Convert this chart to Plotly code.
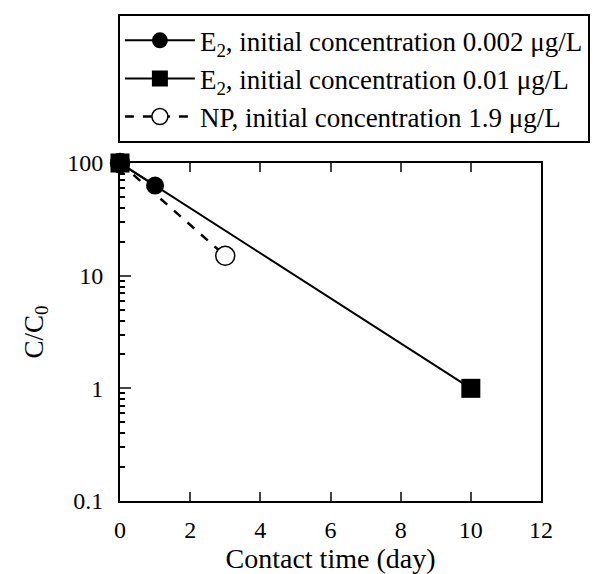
import plotly.graph_objects as go

# Data
days_e2_low = [0, 1]
cc0_e2_low = [100, 63]
days_e2_high = [0, 10]
cc0_e2_high = [100, 1]
days_np = [0, 3]
cc0_np = [100, 15]

names = [
    "E<sub>2</sub>, initial concentration 0.002 μg/L",
    "E<sub>2</sub>, initial concentration 0.01 μg/L",
    "NP, initial concentration 1.9 μg/L",
]
x_ticks = [0, 2, 4, 6, 8, 10, 12]
y_tickvals = [0.1, 1, 10, 100]
y_ticktext = ["0.1", "1", "10", "100"]
y_minor = [m * 10 ** e for e in (-1, 0, 1) for m in range(2, 10)]

FONT = "Liberation Serif, Times New Roman, serif"

fig = go.Figure()
# NP drawn first so E2 markers lie on top at (0, 100)
fig.add_trace(go.Scatter(
    x=days_np, y=cc0_np, mode="lines+markers", name=names[2], legendrank=3,
    line=dict(color="black", width=2.5, dash="dash"),
    marker=dict(symbol="circle", size=19, color="white",
                line=dict(color="black", width=1.5)),
    cliponaxis=False,
))
fig.add_trace(go.Scatter(
    x=days_e2_low, y=cc0_e2_low, mode="lines+markers", name=names[0], legendrank=1,
    line=dict(color="black", width=2),
    marker=dict(symbol="circle", size=18, color="black"),
    cliponaxis=False,
))
fig.add_trace(go.Scatter(
    x=days_e2_high, y=cc0_e2_high, mode="lines+markers", name=names[1], legendrank=2,
    line=dict(color="black", width=2),
    marker=dict(symbol="square", size=19, color="black"),
    cliponaxis=False,
))

fig.update_layout(
    width=600, height=574,
    margin=dict(l=120, r=59, t=163, b=64),
    paper_bgcolor="white", plot_bgcolor="white",
    font=dict(family=FONT, size=24, color="black"),
    showlegend=True,
    legend=dict(
        x=-0.005, y=1.44, xanchor="left", yanchor="top",
        bordercolor="black", borderwidth=2, bgcolor="white",
        font=dict(family=FONT, size=27, color="black"),
        itemwidth=70, tracegroupgap=2,
    ),
    xaxis=dict(
        range=[0, 12], tickvals=x_ticks, ticks="inside", ticklen=9,
        tickwidth=2, showline=True, linecolor="black", linewidth=2,
        mirror="allticks", showgrid=False, zeroline=False,
        ticklabelstandoff=6,
        title=dict(text="Contact time (day)", font=dict(size=28, color="black"), standoff=0),
        tickfont=dict(size=24, color="black"),
    ),
    yaxis=dict(
        type="log", range=[-1, 2], tickvals=y_tickvals, ticktext=y_ticktext,
        ticks="inside", ticklen=11, tickwidth=2, showline=True,
        linecolor="black", linewidth=2, mirror=True, showgrid=False,
        zeroline=False, ticklabelstandoff=10,
        minor=dict(tickmode="array", tickvals=y_minor, ticks="inside",
                   ticklen=5, tickwidth=2, tickcolor="black", showgrid=False),
        title=dict(text="C/C<sub>0</sub>", font=dict(size=27, color="black"), standoff=16),
        tickfont=dict(size=24, color="black"),
    ),
)

fig.write_html("out.html")
